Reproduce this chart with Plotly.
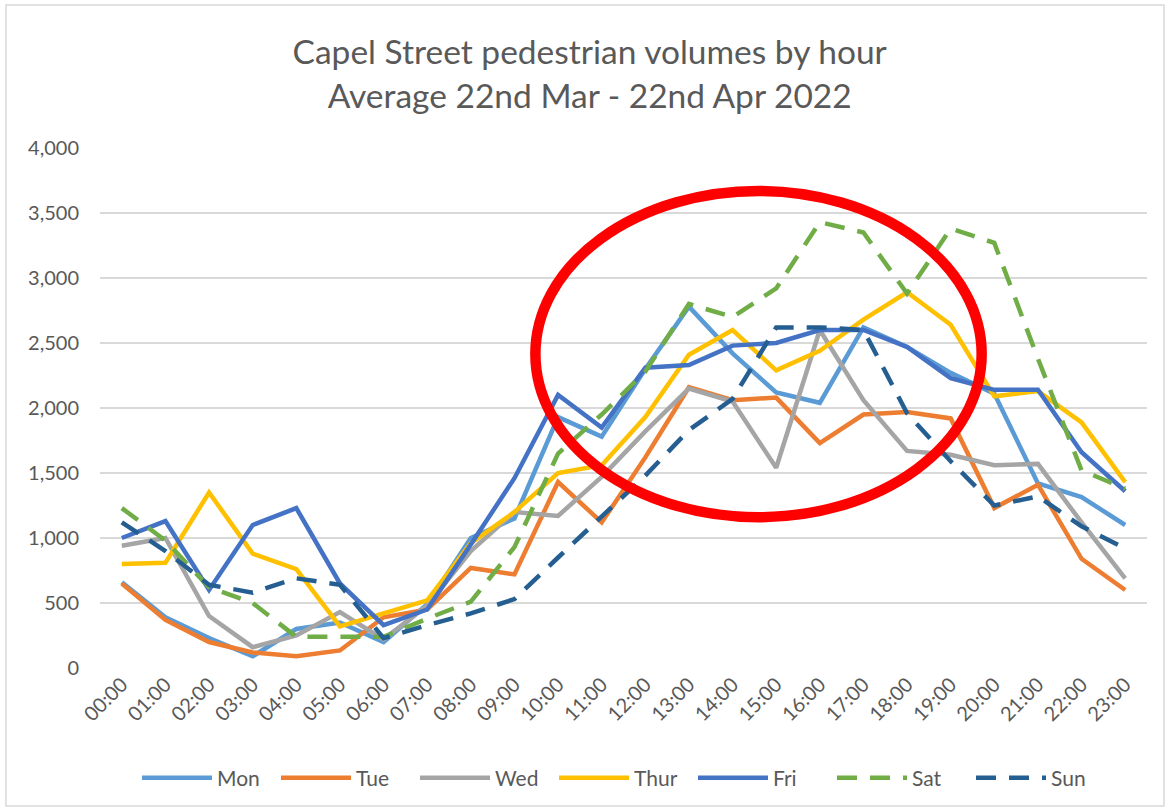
import plotly.graph_objects as go

hours = [f"{h:02d}:00" for h in range(24)]

mon = [660, 390, 230, 90, 300, 350, 200, 490, 1000, 1150, 1930, 1780,
       2300, 2780, 2420, 2120, 2040, 2620, 2470, 2270, 2110, 1420, 1315, 1100]
tue = [650, 370, 200, 120, 90, 135, 390, 450, 770, 720, 1430, 1120,
       1620, 2160, 2060, 2080, 1730, 1950, 1970, 1920, 1230, 1410, 840, 600]
wed = [940, 1000, 400, 160, 250, 430, 220, 480, 900, 1200, 1170, 1470,
       1820, 2150, 2050, 1540, 2600, 2060, 1670, 1640, 1560, 1570, 1120, 690]
thur = [800, 810, 1350, 880, 760, 320, 420, 520, 960, 1200, 1500, 1560,
        1930, 2410, 2600, 2290, 2440, 2680, 2890, 2640, 2090, 2130, 1890, 1430]
fri = [1000, 1130, 600, 1100, 1230, 650, 330, 450, 950, 1460, 2100, 1850,
       2310, 2330, 2480, 2500, 2600, 2600, 2470, 2230, 2140, 2140, 1660, 1360]
sat = [1230, 980, 620, 500, 240, 240, 240, 380, 510, 930, 1650, 1950,
       2280, 2800, 2700, 2920, 3430, 3350, 2880, 3380, 3270, 2380, 1520, 1380]
sun = [1120, 900, 640, 580, 690, 640, 230, 330, 420, 530, 850, 1170,
       1480, 1830, 2070, 2620, 2620, 2600, 1960, 1590, 1250, 1320, 1090, 920]

series = [
    ("Mon", mon, "#5B9BD5", "solid"),
    ("Tue", tue, "#ED7D31", "solid"),
    ("Wed", wed, "#A5A5A5", "solid"),
    ("Thur", thur, "#FFC000", "solid"),
    ("Fri", fri, "#4472C4", "solid"),
    ("Sat", sat, "#70AD47", "20px,13px"),
    ("Sun", sun, "#255E91", "20px,13px"),
]

FONT = "Lato, 'Open Sans', sans-serif"
GREY = "#595959"

fig = go.Figure()
for name, vals, color, dash in series:
    fig.add_trace(go.Scatter(
        x=hours, y=vals, name=name, mode="lines",
        line=dict(color=color, width=4.5, dash=dash),
    ))

# red ellipse highlighting the afternoon peak
fig.add_shape(type="circle", xref="x", yref="y",
              x0=9.48, x1=19.71, y0=1160, y1=3670,
              line=dict(color="#FF0000", width=10.5))

# chart area border
fig.add_shape(type="rect", xref="paper", yref="paper",
              x0=-0.0898, x1=1.0162, y0=-0.2654, y1=1.275,
              line=dict(color="#D9D9D9", width=1.5))

fig.update_layout(
    width=1170, height=811,
    margin=dict(l=100, r=23, t=148, b=143, autoexpand=False),
    title=dict(
        text="Capel Street pedestrian volumes by hour<br>Average 22nd Mar - 22nd Apr 2022",
        x=0.504, xanchor="center", xref="container",
        y=0.9205, yanchor="middle", yref="container",
        font=dict(family=FONT, size=33.5, color=GREY),
    ),
    font=dict(family=FONT, size=18, color=GREY),
    plot_bgcolor="white", paper_bgcolor="white",
    showlegend=True,
    legend=dict(orientation="h", x=0.5, xanchor="center", y=-0.2115, yanchor="middle",
                font=dict(size=21, color=GREY), itemwidth=70,
                entrywidth=54, entrywidthmode="pixels", traceorder="normal"),
    xaxis=dict(type="category", range=[-0.5, 23.5], tickangle=-45, showgrid=False,
               showline=False, ticks="", automargin=False,
               tickfont=dict(size=20, color=GREY)),
    yaxis=dict(range=[0, 4000], dtick=500, tickformat=",", showgrid=True,
               gridcolor="#D9D9D9", gridwidth=1.5, zeroline=False, showline=False,
               ticks="", ticklabelstandoff=20, automargin=False,
               tickfont=dict(size=20, color=GREY)),
)

fig.write_html("out.html", config={"displayModeBar": False},
               post_script="document.body.style.margin='0';")
